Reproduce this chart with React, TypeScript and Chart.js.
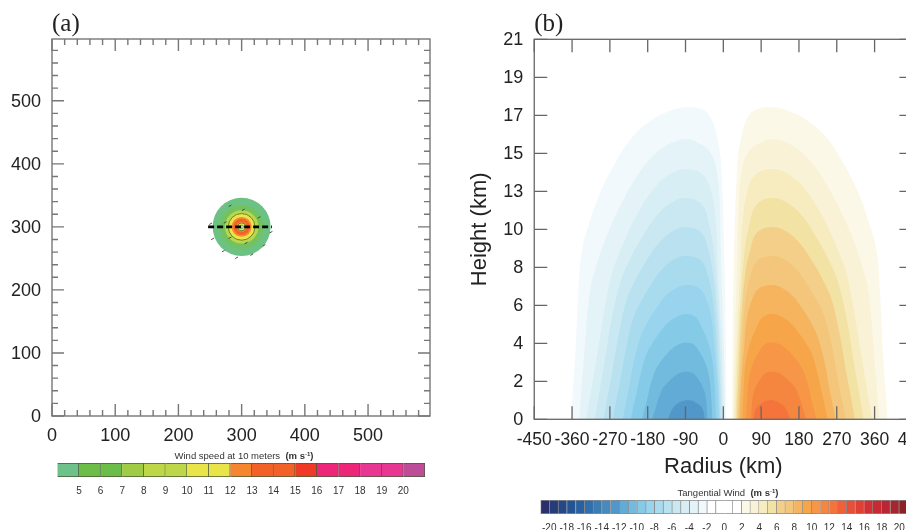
import React, { useEffect, useRef } from "react";
import { Chart, registerables } from "chart.js";

Chart.register(...registerables);

// ---------- Panel (a): surface wind map ----------
const mapTicks = [0,20,40,60,80,100,120,140,160,180,200,220,240,260,280,300,320,340,360,380,400,420,440,460,480,500,520,540,560,580];
const mapRingRadius = [45.9, 34.3, 26.4, 21.1, 15.8, 12.9, 7.9, 6.3, 3.7, 1.8];
const mapRingColors = ["#6bc282", "#74c25e", "#b6d74f", "#e9e64a", "#f58a31", "#f1622c", "#f79a30", "#e9e64a", "#7cc26a", "#dfe9c0"];
const mapRingEdge = [0, 0, 0, 0.8, 0, 0, 0, 0.8, 0, 0];
const crossSectionX = [247, 348];
const crossSectionY = [300, 300];
const arrowX = [281.6, 302.7, 327.5, 251, 254, 274, 281.6, 307, 346.5, 335.4, 316, 292, 271];
const arrowY = [333.4, 327, 315, 305, 281, 307, 282.7, 274.5, 291.6, 270.6, 256, 251, 261.6];

// ---------- Panel (a) colour bar ----------
const windEdges = [4,5,6,7,8,9,10,11,12,13,14,15,16,17,18,19,20,21];
const windLabels = [5,6,7,8,9,10,11,12,13,14,15,16,17,18,19,20];
const windColors = ["#6cc288","#6cbd4a","#6cbd4a","#a0cc45","#bdd748","#bdd748","#e9e548","#e9e548","#f5852f","#f26128","#f26128","#ee3a26","#ee2679","#ee2679","#e83792","#e83792","#bd4d99"];

// ---------- Panel (b): tangential wind cross-section ----------
const radiusTicks = [-450,-360,-270,-180,-90,0,90,180,270,360,450];
const heightTickValues = [0,2.1,4.2,6.3,8.4,10.5,12.6,14.7,16.8,18.9,21];
const heightTickLabels = ["0","2","4","6","8","10","13","15","17","19","21"];

const posColors = ["#fcf8e8","#f9f2d6","#f6ecbf","#f2e2a4","#f4cf8a","#f4c67c","#f6b45f","#f7a549","#f69646","#f58640","#f4743c"];
const negColors = ["#f1f9fc","#e4f3f8","#d7eef5","#c9e8f2","#b9e1f0","#a9dbee","#98d4ed","#85cbe8","#72bade","#62abd6","#5197c9"];

const posR1 = [21,22,25,33,41,56,76,115,154,201,248,287,318,342,364,373,381,391];
const posH1 = [0,4.2,8.5,14,15.4,16.6,17.1,17.24,17.05,16.5,15.5,14.1,12.7,11.2,9.4,7,3.3,0];
const negR1 = [-363,-353,-345,-336,-314,-290,-259,-220,-173,-126,-87,-48,-28,-13,-5,3,6,7];

const posR2 = [23,27,33,37,46,64,91,115,154,193,232,271,303,330,346,360,371];
const posH2 = [0,4.2,8.5,12.1,14,14.9,15.3,15.47,15.25,14.6,13.5,11.9,10.3,8.5,7,3.3,0];
const negR2 = [-343,-332,-318,-302,-275,-243,-204,-165,-126,-87,-63,-36,-18,-9,-5,1,5];

const posR3 = [26,29,32,41,45,56,76,115,154,193,232,263,287,295,311,330,354];
const posH3 = [0,2.2,4.2,8.5,10.6,12.5,13.5,13.83,13.55,12.76,11.38,9.9,8.5,7.9,6,3.3,0];
const negR3 = [-326,-302,-283,-267,-259,-235,-204,-165,-126,-87,-48,-28,-17,-13,-4,-1,2];

const posR4 = [29,35,42,50,62,79,115,150,187,222,251,273,295,312,325,334];
const posH4 = [0,3.67,6.85,9.17,10.76,11.86,12.23,11.99,11.25,10.03,8.81,7.58,5.38,2.94,1.22,0];
const negR4 = [-306,-297,-284,-267,-245,-223,-194,-159,-122,-87,-51,-34,-22,-14,-7,-1];

const posR5 = [32,38,44,52,64,80,115,147,180,212,238,258,277,293,305,313];
const posH5 = [0,3.19,5.95,7.97,9.35,10.31,10.63,10.42,9.78,8.72,7.65,6.59,4.68,2.55,1.06,0];
const negR5 = [-285,-277,-265,-249,-230,-210,-184,-152,-119,-87,-52,-36,-24,-16,-10,-4];

const posR6 = [35,41,47,54,65,81,115,143,173,201,224,242,259,273,284,291];
const posH6 = [0,2.71,5.06,6.78,7.96,8.77,9.04,8.86,8.32,7.41,6.51,5.6,3.98,2.17,0.9,0];
const negR6 = [-263,-256,-245,-231,-214,-196,-173,-145,-115,-87,-53,-37,-26,-19,-13,-7];

const posR7 = [38,43,50,56,67,83,115,139,165,189,209,224,240,252,261,267];
const posH7 = [0,2.23,4.16,5.57,6.53,7.2,7.42,7.27,6.83,6.08,5.34,4.6,3.26,1.78,0.74,0];
const negR7 = [-239,-233,-224,-212,-196,-181,-161,-137,-111,-87,-55,-39,-28,-22,-15,-10];

const posR8 = [45,48.5,54,66,80,94,115,136,159,180,197,211,224,235,243,248];
const posH8 = [0,1.75,3.26,4.37,5.12,5.65,5.82,5.7,5.35,4.77,4.19,3.61,2.56,1.4,0.58,0];
const negR8 = [-220,-215,-207,-196,-183,-169,-152,-131,-108,-87,-66,-52,-38,-26,-20.5,-17];

const posR9 = [54,57,62,72,85,97,115,132,150,167,181,191,202,210,217,221];
const posH9 = [0,1.27,2.37,3.18,3.73,4.11,4.24,4.16,3.9,3.48,3.05,2.63,1.87,1.02,0.42,0];
const negR9 = [-193,-189,-182,-174,-163,-153,-139,-122,-104,-87,-69,-57,-44,-34,-29,-26];

const posR10 = [66,68,72,81,90.5,100,115,128,142,155,166,174,182,189,194,197];
const posH10 = [0,0.79,1.47,1.97,2.31,2.55,2.63,2.58,2.42,2.16,1.89,1.63,1.16,0.63,0.26,0];
const negR10 = [-169,-166,-161,-154,-146,-138,-127,-114,-100,-87,-72,-62.5,-53,-44,-40,-38];

const posR11 = [72,74,78,85,93.5,102,115,122,130,137,143,147,152,155.5,158,160];
const posH11 = [0,0.32,0.59,0.79,0.92,1.02,1.05,1.03,0.97,0.86,0.76,0.65,0.46,0.25,0.11,0];
const negR11 = [-132,-130,-127.5,-124,-119,-115,-109,-102,-94,-87,-74,-65.5,-57,-50,-46,-44];

const posRadii = [posR1,posR2,posR3,posR4,posR5,posR6,posR7,posR8,posR9,posR10,posR11];
const negRadii = [negR1,negR2,negR3,negR4,negR5,negR6,negR7,negR8,negR9,negR10,negR11];
const heights = [posH1,posH2,posH3,posH4,posH5,posH6,posH7,posH8,posH9,posH10,posH11];

// ---------- Panel (b) colour bar ----------
const tangEdges = [-21,-20,-19,-18,-17,-16,-15,-14,-13,-12,-11,-10,-9,-8,-7,-6,-5,-4,-3,-2,-1,0,1,2,3,4,5,6,7,8,9,10,11,12,13,14,15,16,17,18,19,20,21];
const tangLabels = [-20,-18,-16,-14,-12,-10,-8,-6,-4,-2,0,2,4,6,8,10,12,14,16,18,20];
const tangDeepNeg = ["#2a2e6c","#273a7a","#244786","#225393","#2761a2","#2f6fad","#3a7db5","#458ac0"];
const tangDeepPos = ["#f0603a","#e84f37","#df4034","#d33033","#c72a33","#b92632","#a5262f","#8c2226"];
const tangWhite = ["#ffffff","#ffffff","#ffffff","#ffffff"];
const tangColors = [...tangDeepNeg, ...[...negColors].reverse(), ...tangWhite, ...posColors, ...tangDeepPos];

const SANS = "'Liberation Sans', Arial, sans-serif";
const SERIF = "'Liberation Serif', 'Times New Roman', serif";

const frameTicksPlugin = {
  id: "frameTicks",
  afterDatasetsDraw(chart: any, _a: any, o: any) {
    const { ctx, chartArea: c, scales } = chart;
    ctx.save();
    ctx.strokeStyle = o.color;
    ctx.lineWidth = o.width;
    ctx.strokeRect(c.left, c.top, c.right - c.left, c.bottom - c.top);
    ctx.beginPath();
    const len = (v: number) => (!o.majorEvery || v % o.majorEvery === 0 ? o.major : o.minor);
    for (const t of scales.x.ticks) {
      const p = scales.x.getPixelForValue(t.value);
      ctx.moveTo(p, c.bottom); ctx.lineTo(p, c.bottom - len(t.value));
      ctx.moveTo(p, c.top); ctx.lineTo(p, c.top + len(t.value));
    }
    for (const t of scales.y.ticks) {
      const p = scales.y.getPixelForValue(t.value);
      ctx.moveTo(c.left, p); ctx.lineTo(c.left + len(t.value), p);
      ctx.moveTo(c.right, p); ctx.lineTo(c.right - len(t.value), p);
    }
    ctx.stroke();
    ctx.restore();
  },
};

const explicitTicks = (values: number[]) => (s: any) => {
  s.ticks = values.map((value) => ({ value }));
};
const noGrid = { display: false, drawTicks: false };

function colorBarConfig(edges: number[], labels: number[], colors: string[], pad: any, border: string, font: number, tickPad: number): any {
  return {
    type: "bar",
    data: {
      labels: ["band"],
      datasets: [{
        data: colors.map((_, i) => ({ y: "band", x: [edges[i], edges[i + 1]] })),
        backgroundColor: colors,
        borderColor: border,
        borderWidth: 1,
        barPercentage: 1,
        categoryPercentage: 1,
      }],
    },
    options: {
      indexAxis: "y",
      responsive: false,
      animation: false,
      devicePixelRatio: 1,
      layout: { padding: pad },
      plugins: { legend: { display: false }, tooltip: { enabled: false }, title: { display: false } },
      scales: {
        x: {
          type: "linear",
          min: edges[0],
          max: edges[edges.length - 1],
          grid: noGrid,
          border: { display: false },
          afterBuildTicks: explicitTicks(labels),
          afterFit: (s: any) => { s.height = 23; },
          ticks: { autoSkip: false, maxRotation: 0, padding: tickPad, color: "#333", font: { family: SANS, size: font } },
        },
        y: { display: false },
      },
    },
  };
}

function mapConfig(): any {
  return {
    type: "scatter",
    data: {
      datasets: [
        {
          label: "Cross section",
          type: "line",
          data: crossSectionX.map((x, i) => ({ x, y: crossSectionY[i] })),
          borderColor: "#000",
          borderWidth: 2.7,
          borderDash: [6, 3],
          pointRadius: 0,
          order: 0,
        },
        {
          label: "Wind vectors",
          data: arrowX.map((x, i) => ({ x, y: arrowY[i] })),
          pointStyle: "line",
          pointRadius: 1.6,
          rotation: -30,
          borderColor: "#3a3a3a",
          borderWidth: 0.9,
          order: 1,
        },
        ...mapRingRadius.map((r, i) => ({
          label: "Wind ring " + i,
          data: [{ x: 300, y: 300 }],
          pointRadius: (c: any) => {
            const sx = c.chart.scales.x;
            return Math.abs(sx.getPixelForValue(r) - sx.getPixelForValue(0));
          },
          backgroundColor: mapRingColors[i],
          borderColor: "#5a6a20",
          borderWidth: mapRingEdge[i],
          order: 20 - i,
        })),
      ],
    },
    plugins: [frameTicksPlugin],
    options: {
      responsive: false,
      animation: false,
      devicePixelRatio: 1,
      layout: { padding: { left: 0, right: 30, top: 0, bottom: 0 } },
      plugins: {
        legend: { display: false },
        tooltip: { enabled: false },
        title: { display: true, text: "(a)", align: "start", fullSize: false, color: "#222", font: { family: SERIF, size: 25, weight: "normal", lineHeight: 1.2 }, padding: { top: 9, bottom: 0 } },
        frameTicks: { color: "#777", width: 1.4, major: 12, minor: 6, majorEvery: 100 },
      },
      scales: {
        x: {
          type: "linear", min: 0, max: 598,
          grid: noGrid, border: { display: false },
          afterBuildTicks: explicitTicks(mapTicks),
          afterFit: (s: any) => { s.height = 30; },
          ticks: { autoSkip: false, maxRotation: 0, padding: 9, color: "#222", font: { family: SANS, size: 18 }, callback: (v: number) => (v % 100 === 0 ? String(v) : "") },
        },
        y: {
          type: "linear", min: 0, max: 598,
          grid: noGrid, border: { display: false },
          afterBuildTicks: explicitTicks(mapTicks),
          afterFit: (s: any) => { s.width = 52; },
          ticks: { autoSkip: false, padding: 11, labelOffset: 1, color: "#222", font: { family: SANS, size: 18 }, callback: (v: number) => (v % 100 === 0 ? String(v) : "") },
        },
      },
    },
  };
}

function sectionConfig(): any {
  const datasets: any[] = [];
  heights.forEach((h, i) => {
    const reversed = [...h].reverse();
    datasets.push({
      label: "Negative " + i,
      data: negRadii[i].map((x, k) => ({ x, y: reversed[k] })),
      backgroundColor: negColors[i],
      borderWidth: 0,
      pointRadius: 0,
      fill: "origin",
      tension: 0.4,
      order: 20 - i,
    });
    datasets.push({
      label: "Positive " + i,
      data: posRadii[i].map((x, k) => ({ x, y: h[k] })),
      backgroundColor: posColors[i],
      borderWidth: 0,
      pointRadius: 0,
      fill: "origin",
      tension: 0.4,
      order: 20 - i,
    });
  });
  return {
    type: "line",
    data: { datasets },
    plugins: [frameTicksPlugin],
    options: {
      responsive: false,
      animation: false,
      devicePixelRatio: 1,
      layout: { padding: { left: 0, right: 19.25, top: 0, bottom: 0.7 } },
      plugins: {
        legend: { display: false },
        tooltip: { enabled: false },
        title: { display: true, text: "(b)", align: "start", fullSize: false, color: "#222", font: { family: SERIF, size: 25, weight: "normal", lineHeight: 1.2 }, padding: { top: 9, bottom: 0.3 } },
        frameTicks: { color: "#666", width: 1.3, major: 13, minor: 13, majorEvery: 0 },
      },
      scales: {
        x: {
          type: "linear", min: -450, max: 450,
          grid: noGrid, border: { display: false },
          afterBuildTicks: explicitTicks(radiusTicks),
          afterFit: (s: any) => { s.height = 61; },
          title: { display: true, text: "Radius (km)", color: "#222", font: { family: SANS, size: 22 }, padding: 0 },
          ticks: { autoSkip: false, maxRotation: 0, padding: 10, color: "#222", font: { family: SANS, size: 17.5 } },
        },
        y: {
          type: "linear", min: 0, max: 21,
          grid: noGrid, border: { display: false },
          afterBuildTicks: explicitTicks(heightTickValues),
          afterFit: (s: any) => { s.width = 67.25; },
          title: { display: true, text: "Height (km)", color: "#222", font: { family: SANS, size: 22 }, padding: 0 },
          ticks: {
            autoSkip: false, padding: 11, labelOffset: 1, color: "#222", font: { family: SANS, size: 18 },
            callback: (v: number) => heightTickLabels[heightTickValues.indexOf(v)] ?? "",
          },
        },
      },
    },
  };
}

const abs = (left: number, top: number): React.CSSProperties => ({ position: "absolute", left, top });
const capStyle = (center: number, top: number): React.CSSProperties => ({
  position: "absolute", left: center - 150, top, width: 300, textAlign: "center",
  font: `9.5px ${SANS}`, color: "#333", lineHeight: "12px", whiteSpace: "pre",
});
const supStyle: React.CSSProperties = { fontSize: 6, verticalAlign: "3px", lineHeight: 0 };

export default function App() {
  const a = useRef<HTMLCanvasElement>(null);
  const b = useRef<HTMLCanvasElement>(null);
  const ca = useRef<HTMLCanvasElement>(null);
  const cb = useRef<HTMLCanvasElement>(null);
  useEffect(() => {
    const charts = [
      new Chart(a.current!, mapConfig()),
      new Chart(b.current!, sectionConfig()),
      new Chart(ca.current!, colorBarConfig(windEdges, windLabels, windColors, { left: 17.3, right: 20, top: 3, bottom: 0 }, "#4a5a3a", 10, 8)),
      new Chart(cb.current!, colorBarConfig(tangEdges, tangLabels, tangColors, { left: 10.5, right: 12, top: 3, bottom: 0 }, "#8a8a8a", 10, 8.5)),
    ];
    return () => charts.forEach((c) => c.destroy());
  }, []);
  return (
    <div style={{ position: "absolute", left: 0, top: 0, width: 906, height: 530, overflow: "hidden", background: "#fff" }}>
      <canvas ref={a} width={460} height={446} style={abs(0, 0)} />
      <canvas ref={b} width={470} height={481} style={abs(467, 0)} />
      <canvas ref={ca} width={405} height={40} style={abs(40, 460)} />
      <canvas ref={cb} width={390} height={40} style={abs(530, 497)} />
      <div style={capStyle(244, 450)}>Wind speed at 10 meters  <b>(m s<sup style={supStyle}>-1</sup>)</b></div>
      <div style={capStyle(728, 487)}>Tangential Wind  <b>(m s<sup style={supStyle}>-1</sup>)</b></div>
    </div>
  );
}
